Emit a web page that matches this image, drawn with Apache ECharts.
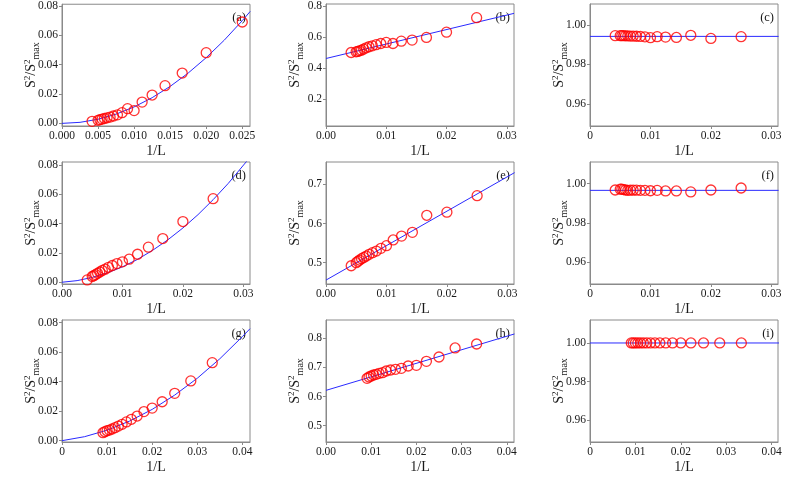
<!DOCTYPE html>
<html><head><meta charset="utf-8">
<script src="https://cdn.jsdelivr.net/npm/echarts@6/dist/echarts.min.js"></script>
<style>html,body{margin:0;padding:0;background:#fff}#c{width:793px;height:485px}</style>
</head><body><div id="c"></div>
<script>
// ---- data (x = 1/L) ----
const xRow12 = [0.00417, 0.00500, 0.00526, 0.00556, 0.00588, 0.00625, 0.00667, 0.00714, 0.00769, 0.00833, 0.00909, 0.01000, 0.01111, 0.01250, 0.01429, 0.01667, 0.02000, 0.02500];
const xRow3 = [0.00909, 0.00952, 0.01000, 0.01053, 0.01111, 0.01176, 0.01250, 0.01333, 0.01429, 0.01538, 0.01667, 0.01818, 0.02000, 0.02222, 0.02500, 0.02857, 0.03333];

const yA = [0.0014, 0.0021, 0.0025, 0.0029, 0.0033, 0.0038, 0.0043, 0.0050, 0.0058, 0.0073, 0.0100, 0.0087, 0.0145, 0.0193, 0.0257, 0.0343, 0.0482, 0.0691];
const yB = [0.501, 0.505, 0.508, 0.512, 0.516, 0.523, 0.531, 0.538, 0.544, 0.551, 0.559, 0.566, 0.559, 0.574, 0.581, 0.598, 0.632, 0.725];
const yC = [0.9946, 0.9946, 0.9946, 0.9946, 0.9945, 0.9945, 0.9944, 0.9944, 0.9943, 0.9942, 0.9940, 0.9936, 0.9941, 0.9939, 0.9937, 0.9948, 0.9932, 0.9941];
const yD = [0.0016, 0.0039, 0.0045, 0.0052, 0.0061, 0.0070, 0.0080, 0.0089, 0.0102, 0.0114, 0.0127, 0.0139, 0.0157, 0.0191, 0.0239, 0.0298, 0.0414, 0.0570];
const yE = [0.4923, 0.5000, 0.5034, 0.5068, 0.5102, 0.5136, 0.5170, 0.5213, 0.5255, 0.5298, 0.5366, 0.5434, 0.5580, 0.5680, 0.5774, 0.6210, 0.6290, 0.6710];
const yF = [0.9968, 0.9972, 0.9972, 0.9970, 0.9968, 0.9966, 0.9967, 0.9967, 0.9967, 0.9966, 0.9966, 0.9964, 0.9966, 0.9963, 0.9963, 0.9958, 0.9968, 0.9978];
const yG = [0.0054, 0.0061, 0.0068, 0.0072, 0.0079, 0.0088, 0.0099, 0.0111, 0.0127, 0.0145, 0.0167, 0.0197, 0.0221, 0.0264, 0.0321, 0.0405, 0.0529];
const yH = [0.6625, 0.6671, 0.6706, 0.6740, 0.6763, 0.6797, 0.6820, 0.6877, 0.6912, 0.6935, 0.6969, 0.7049, 0.7072, 0.7210, 0.7359, 0.7668, 0.7805];
const yI = [1.0000, 1.0000, 1.0000, 1.0000, 1.0000, 1.0000, 1.0000, 1.0000, 1.0000, 1.0000, 1.0000, 1.0000, 1.0000, 1.0000, 1.0000, 1.0000, 1.0000];

// fitted curves
const fitAx = [0, 0.0025, 0.005, 0.0075, 0.01, 0.0125, 0.015, 0.0175, 0.02, 0.0225, 0.025, 0.0261];
const fitAy = [0, 0.0007, 0.0028, 0.0063, 0.0112, 0.0175, 0.0252, 0.0343, 0.0448, 0.0567, 0.0700, 0.0763];
const fitBx = [0, 0.0312];
const fitBy = [0.4624, 0.7527];
const fitCx = [0, 0.0312];
const fitCy = [0.99424, 0.99424];
const fitDx = [0, 0.0025, 0.005, 0.0075, 0.01, 0.0125, 0.015, 0.0175, 0.02, 0.0225, 0.025, 0.0275, 0.0311];
const fitDy = [0, 0.0011, 0.0033, 0.0064, 0.0105, 0.0156, 0.0218, 0.0289, 0.0370, 0.0461, 0.0563, 0.0674, 0.0852];
const fitEx = [0, 0.0312];
const fitEy = [0.4557, 0.7298];
const fitFx = [0, 0.0312];
const fitFy = [0.99661, 0.99661];
const fitGx = [0, 0.005, 0.01, 0.015, 0.02, 0.025, 0.03, 0.035, 0.04, 0.0417];
const fitGy = [0, 0.0027, 0.0071, 0.0133, 0.0212, 0.0309, 0.0423, 0.0555, 0.0705, 0.0759];
const fitHx = [0, 0.0417];
const fitHy = [0.6213, 0.8149];
const fitIx = [0, 0.0417];
const fitIy = [1.0, 1.0];

// tick labels
const xTicksA = [0, 0.005, 0.010, 0.015, 0.020, 0.025];
const xTicks3 = [0, 0.01, 0.02, 0.03];
const xTicks4 = [0, 0.01, 0.02, 0.03, 0.04];
const yTicksSmall = [0, 0.02, 0.04, 0.06, 0.08];
const yTicksB = [0.2, 0.4, 0.6, 0.8];
const yTicksOne = [0.96, 0.98, 1.00];
const yTicksE = [0.5, 0.6, 0.7];
const yTicksH = [0.5, 0.6, 0.7, 0.8];
const panelLetters = ['(a)', '(b)', '(c)', '(d)', '(e)', '(f)', '(g)', '(h)', '(i)'];

// ---- layout ----
const colLeft = [62, 326, 590];
const rowTop = [4, 162, 320];
const W = 188, H = 122;
const FONT = '"Liberation Serif", "DejaVu Serif", serif';

const panels = [
  {x: xRow12, y: yA, fx: fitAx, fy: fitAy, xr: [0, 0.02607], yr: [-0.0018, 0.0812], xt: xTicksA, yt: yTicksSmall, xd: 3, yd: 2, zero: false},
  {x: xRow12, y: yB, fx: fitBx, fy: fitBy, xr: [0, 0.0312], yr: [0.028, 0.813], xt: xTicks3, yt: yTicksB, xd: 2, yd: 1, zero: false},
  {x: xRow12, y: yC, fx: fitCx, fy: fitCy, xr: [0, 0.0311], yr: [0.9487, 1.0107], xt: xTicks3, yt: yTicksOne, xd: 2, yd: 2, zero: true},
  {x: xRow12, y: yD, fx: fitDx, fy: fitDy, xr: [0, 0.0311], yr: [-0.0012, 0.0820], xt: xTicks3, yt: yTicksSmall, xd: 2, yd: 2, zero: false},
  {x: xRow12, y: yE, fx: fitEx, fy: fitEy, xr: [0, 0.0311], yr: [0.4457, 0.7569], xt: xTicks3, yt: yTicksE, xd: 2, yd: 1, zero: false},
  {x: xRow12, y: yF, fx: fitFx, fy: fitFy, xr: [0, 0.0311], yr: [0.94896, 1.01104], xt: xTicks3, yt: yTicksOne, xd: 2, yd: 2, zero: true},
  {x: xRow3, y: yG, fx: fitGx, fy: fitGy, xr: [0, 0.0417], yr: [-0.0009, 0.0818], xt: xTicks4, yt: yTicksSmall, xd: 2, yd: 2, zero: true},
  {x: xRow3, y: yH, fx: fitHx, fy: fitHy, xr: [0, 0.0416], yr: [0.4441, 0.8628], xt: xTicks4, yt: yTicksH, xd: 2, yd: 1, zero: false},
  {x: xRow3, y: yI, fx: fitIx, fy: fitIy, xr: [0, 0.0414], yr: [0.9487, 1.0119], xt: xTicks4, yt: yTicksOne, xd: 2, yd: 2, zero: true}
];

const grid = [], xAxis = [], yAxis = [], series = [], graphic = [];
const frameColor = '#8a8a8a';
const labelColor = '#1a1a1a';

panels.forEach((p, i) => {
  const r = Math.floor(i / 3), c = i % 3;
  grid.push({left: colLeft[c], top: rowTop[r], width: W, height: H, show: true,
    borderColor: frameColor, borderWidth: 1, backgroundColor: 'transparent', containLabel: false});
  xAxis.push({type: 'value', gridIndex: i, min: p.xr[0], max: p.xr[1],
    name: '1/L', nameLocation: 'middle', nameGap: 18, nameMoveOverlap: false,
    nameTextStyle: {fontFamily: FONT, fontSize: 14, color: labelColor},
    axisLine: {show: true, onZero: false, lineStyle: {color: frameColor, width: 1}},
    axisTick: {show: true, length: 3, inside: false, customValues: p.xt, lineStyle: {color: frameColor}},
    axisLabel: {customValues: p.xt, fontFamily: FONT, fontSize: 11.5, color: labelColor, margin: 4,
      formatter: v => (p.zero && Math.abs(v) < 1e-12) ? '0' : v.toFixed(p.xd)},
    splitLine: {show: false}});
  yAxis.push({type: 'value', gridIndex: i, min: p.yr[0], max: p.yr[1],
    name: '{s|S}{p|2}{s|/S}{p|2}{b|max}', nameLocation: 'middle', nameGap: 21, nameRotate: 90, nameMoveOverlap: false,
    nameTextStyle: {fontFamily: FONT, color: labelColor, rich: {
      s: {fontFamily: FONT, fontSize: 14, color: labelColor, lineHeight: 20, verticalAlign: 'middle'},
      p: {fontFamily: FONT, fontSize: 9, color: labelColor, lineHeight: 20, verticalAlign: 'top', padding: [2, 0, 0, 0]},
      b: {fontFamily: FONT, fontSize: 10, color: labelColor, lineHeight: 20, verticalAlign: 'bottom'}
    }},
    axisLine: {show: true, onZero: false, lineStyle: {color: frameColor, width: 1}},
    axisTick: {show: true, length: 3, inside: false, customValues: p.yt, lineStyle: {color: frameColor}},
    axisLabel: {customValues: p.yt, fontFamily: FONT, fontSize: 11.5, color: labelColor, margin: 4,
      formatter: v => v.toFixed(p.yd)},
    splitLine: {show: false}});
  series.push({type: 'line', xAxisIndex: i, yAxisIndex: i, data: p.fx.map((v, k) => [v, p.fy[k]]),
    smooth: false, showSymbol: false, clip: true, silent: true,
    lineStyle: {color: '#2a2aff', width: 1}, z: 2});
  series.push({type: 'scatter', xAxisIndex: i, yAxisIndex: i, data: p.x.map((v, k) => [v, p.y[k]]),
    symbol: 'circle', symbolSize: 10, clip: false, silent: true,
    itemStyle: {color: 'rgba(255,255,255,0)', borderColor: '#ff0000', borderWidth: 1.3}, z: 3});
  graphic.push({type: 'text', right: 793 - (colLeft[c] + W) + 4, top: rowTop[r] + 7,
    style: {text: panelLetters[i], fontFamily: FONT, fontSize: 12.5, fill: labelColor}});
});

const chart = echarts.init(document.getElementById('c'), null, {renderer: 'canvas'});
chart.setOption({animation: false, backgroundColor: '#fff', grid, xAxis, yAxis, series, graphic});
</script></body></html>
